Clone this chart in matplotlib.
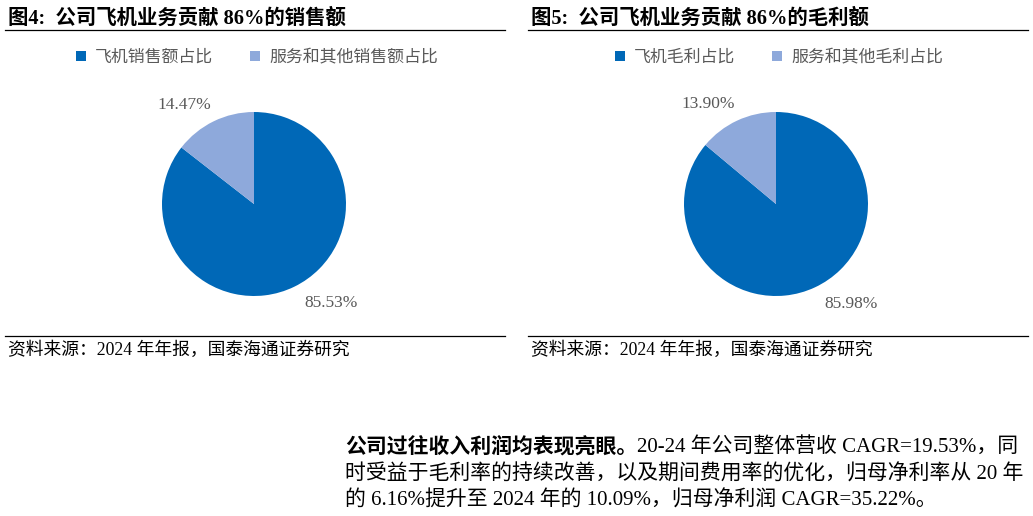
import matplotlib.pyplot as plt
import numpy as np

plt.rcParams['font.family'] = ['Liberation Serif', 'Noto Sans CJK SC']

# data
left_labels = ['飞机销售额占比', '服务和其他销售额占比']
left_values = [85.53, 14.47]
right_labels = ['飞机毛利占比', '服务和其他毛利占比']
right_values = [85.98, 13.90]

title_left = '图4:  公司飞机业务贡献 86%的销售额'
title_right = '图5:  公司飞机业务贡献 86%的毛利额'
source = '资料来源：2024 年年报，国泰海通证券研究'
para_bold = '公司过往收入利润均表现亮眼。'
para_lines = ['20-24 年公司整体营收 CAGR=19.53%，同',
              '时受益于毛利率的持续改善，以及期间费用率的优化，归母净利率从 20 年',
              '的 6.16%提升至 2024 年的 10.09%，归母净利润 CAGR=35.22%。']

colors = ['#0068B7', '#8EA9DB']
W, H = 1033, 516
fig = plt.figure(figsize=(W / 100, H / 100), dpi=100)


def px(x, y):
    return x / W, 1 - y / H


def draw_panel(x0, x1, cx, title, labels, values):
    fig.text(*px(x0 + 3, 19), title, fontsize=14.7, fontweight='bold',
             va='center', ha='left', color='black')
    fig.add_artist(plt.Line2D([x0 / W, x1 / W], [1 - 29.5 / H] * 2,
                              color='black', lw=0.9))
    fig.add_artist(plt.Line2D([x0 / W, x1 / W], [1 - 336 / H] * 2,
                              color='black', lw=0.9))
    fig.text(*px(x0 + 3, 350), source, fontsize=12.8, va='center',
             ha='left', color='black')

    r = 92
    ax = fig.add_axes([(cx - r) / W, 1 - (204 + r) / H, 2 * r / W, 2 * r / H])
    wedges, _ = ax.pie(values, colors=colors, startangle=90,
                       counterclock=False, wedgeprops=dict(linewidth=0))
    # label placement (angle shift in degrees, radial distance)
    for w, v, s, d in zip(wedges, values, [12, 9], [1.36, 1.31]):
        ang = np.deg2rad((w.theta1 + w.theta2) / 2 + s)
        ax.text(d * np.cos(ang), d * np.sin(ang), f'{v:.2f}%',
                ha='center', va='center', fontsize=12.5, color='#595959')
    ax.set_xlim(-1, 1)
    ax.set_ylim(-1, 1)
    ax.set_aspect('equal')
    ax.axis('off')

    lx, ly = px(cx + 3, 58)
    fig.legend(wedges, labels, loc='center', bbox_to_anchor=(lx, ly),
               ncol=2, frameon=False, fontsize=12.2, labelcolor='#595959',
               handlelength=0.6, handleheight=0.6, handletextpad=0.5,
               columnspacing=2.2)


draw_panel(5, 505, 254, title_left, left_labels, left_values)
draw_panel(528, 1028, 776, title_right, right_labels, right_values)

# paragraph
t = fig.text(*px(345, 447), para_bold, fontsize=15, fontweight='bold',
             va='center', ha='left')
fig.canvas.draw()
bb = t.get_window_extent()
fig.text(bb.x1 / W, 1 - 447 / H, para_lines[0], fontsize=15, va='center', ha='left')
fig.text(*px(345, 474), para_lines[1], fontsize=15, va='center', ha='left')
fig.text(*px(345, 500), para_lines[2], fontsize=15, va='center', ha='left')

fig.savefig('out.png', dpi=100)
